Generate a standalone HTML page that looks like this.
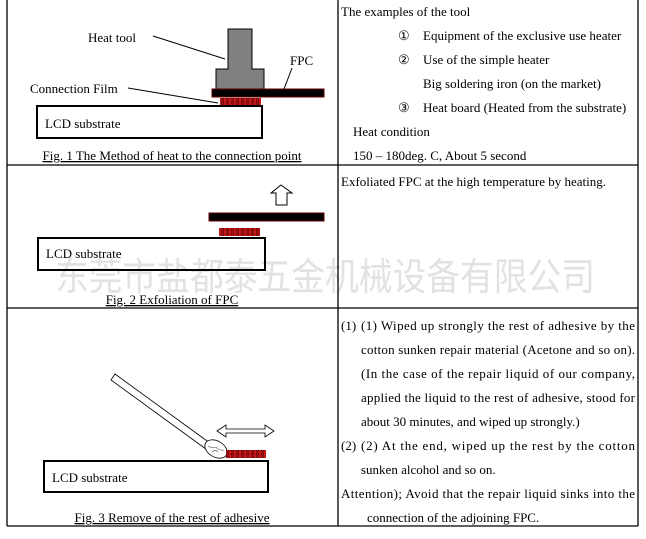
<!DOCTYPE html>
<html><head><meta charset="utf-8"><style>
html,body{margin:0;padding:0;background:#fff;}
svg{display:block;}
text{font-family:"Liberation Serif",serif;fill:#000;}
</style></head><body>
<svg width="646" height="539" viewBox="0 0 646 539" xmlns="http://www.w3.org/2000/svg">
<defs>
<pattern id="dots" width="5" height="4" patternUnits="userSpaceOnUse">
<rect width="5" height="4" fill="#c81818"/>
<circle cx="2.5" cy="2" r="1.3" fill="none" stroke="#400" stroke-width="0.7"/>
</pattern>
</defs>
<!-- watermark -->
<text x="55" y="290" font-size="38" style="font-family:'Noto Sans CJK SC',sans-serif;fill:#e2e2e2" textLength="540" lengthAdjust="spacingAndGlyphs">东莞市盐都泰五金机械设备有限公司</text>
<!-- table lines -->
<g stroke="#000" stroke-width="1.3">
<line x1="7" y1="0" x2="7" y2="526"/>
<line x1="338" y1="0" x2="338" y2="526"/>
<line x1="638" y1="0" x2="638" y2="526"/>
<line x1="7" y1="165" x2="638" y2="165"/>
<line x1="7" y1="308" x2="638" y2="308"/>
<line x1="7" y1="526" x2="638" y2="526"/>
</g>
<!-- Fig 1 -->
<rect x="228" y="29" width="24" height="41" fill="#808080" stroke="#000" stroke-width="1"/>
<rect x="216" y="69" width="48" height="20" fill="#808080" stroke="#000" stroke-width="1"/>
<rect x="228.5" y="68" width="23" height="2" fill="#808080"/>
<rect x="212" y="89" width="112" height="8" fill="#000" stroke="#600" stroke-width="1"/>
<rect x="220" y="98" width="41" height="7" fill="url(#dots)"/>
<rect x="37" y="106" width="225" height="32" fill="none" stroke="#000" stroke-width="2"/>
<text x="45" y="128" font-size="13">LCD substrate</text>
<text x="88" y="42" font-size="13">Heat tool</text>
<line x1="153" y1="36" x2="225" y2="59" stroke="#000"/>
<text x="290" y="65" font-size="13">FPC</text>
<line x1="292" y1="68" x2="284" y2="89" stroke="#000"/>
<text x="30" y="93" font-size="13">Connection Film</text>
<line x1="128" y1="88" x2="218" y2="103" stroke="#000"/>
<text x="172" y="160" font-size="13" text-anchor="middle" text-decoration="underline">Fig. 1 The Method of heat to the connection point</text>
<!-- Fig 2 -->
<path d="M281,185 L292,193 L287,193 L287,205 L276,205 L276,193 L271,193 Z" fill="#fff" stroke="#000" stroke-width="1"/>
<rect x="209" y="213" width="115" height="8" fill="#000" stroke="#600" stroke-width="1"/>
<rect x="219" y="228" width="41" height="8" fill="url(#dots)"/>
<rect x="38" y="238" width="227" height="32" fill="none" stroke="#000" stroke-width="2"/>
<text x="46" y="258" font-size="13">LCD substrate</text>
<text x="172" y="304" font-size="13" text-anchor="middle" text-decoration="underline">Fig. 2 Exfoliation of FPC</text>
<!-- Fig 3 -->
<polygon points="111,380 115,374 214,446 210,452" fill="#fff" stroke="#000" stroke-width="0.8"/>
<ellipse cx="216" cy="449" rx="12" ry="8" transform="rotate(30 216 449)" fill="#fff" stroke="#000" stroke-width="0.8"/>
<path d="M208,446 q4,3 8,1 q3,4 8,3 M212,452 q3,-3 6,0" fill="none" stroke="#555" stroke-width="0.6"/>
<rect x="226" y="450" width="40" height="8" fill="url(#dots)"/>
<path d="M217,431 L226,425 L226,429 L265,429 L265,425 L274,431 L265,437 L265,433 L226,433 L226,437 Z" fill="#fff" stroke="#000" stroke-width="0.8"/>
<rect x="44" y="461" width="224" height="31" fill="none" stroke="#000" stroke-width="2"/>
<text x="52" y="482" font-size="13">LCD substrate</text>
<text x="172" y="522" font-size="13" text-anchor="middle" text-decoration="underline">Fig. 3 Remove of the rest of adhesive</text>
<!-- right column -->
<g font-size="13">
<text x="341" y="16">The examples of the tool</text>
<text x="398" y="40">①</text><text x="423" y="40">Equipment of the exclusive use heater</text>
<text x="398" y="64">②</text><text x="423" y="64">Use of the simple heater</text>
<text x="423" y="88">Big soldering iron (on the market)</text>
<text x="398" y="112">③</text><text x="423" y="112">Heat board (Heated from the substrate)</text>
<text x="353" y="136">Heat condition</text>
<text x="353" y="160">150 – 180deg. C, About 5 second</text>
<text x="341" y="186">Exfoliated FPC at the high temperature by heating.</text>
<text x="341" y="330">(1)</text>
<text x="361" y="330" textLength="274" lengthAdjust="spacing">(1) Wiped up strongly the rest of adhesive by the</text>
<text x="361" y="354" textLength="274" lengthAdjust="spacing">cotton sunken repair material (Acetone and so on).</text>
<text x="361" y="378" textLength="274" lengthAdjust="spacing">(In the case of the repair liquid of our company,</text>
<text x="361" y="402" textLength="274" lengthAdjust="spacing">applied the liquid to the rest of adhesive, stood for</text>
<text x="361" y="426">about 30 minutes, and wiped up strongly.)</text>
<text x="341" y="450">(2)</text>
<text x="361" y="450" textLength="274" lengthAdjust="spacing">(2) At the end, wiped up the rest by the cotton</text>
<text x="361" y="474">sunken alcohol and so on.</text>
<text x="341" y="498" textLength="294" lengthAdjust="spacing">Attention); Avoid that the repair liquid sinks into the</text>
<text x="367" y="522">connection of the adjoining FPC.</text>
</g>
</svg>
</body></html>
